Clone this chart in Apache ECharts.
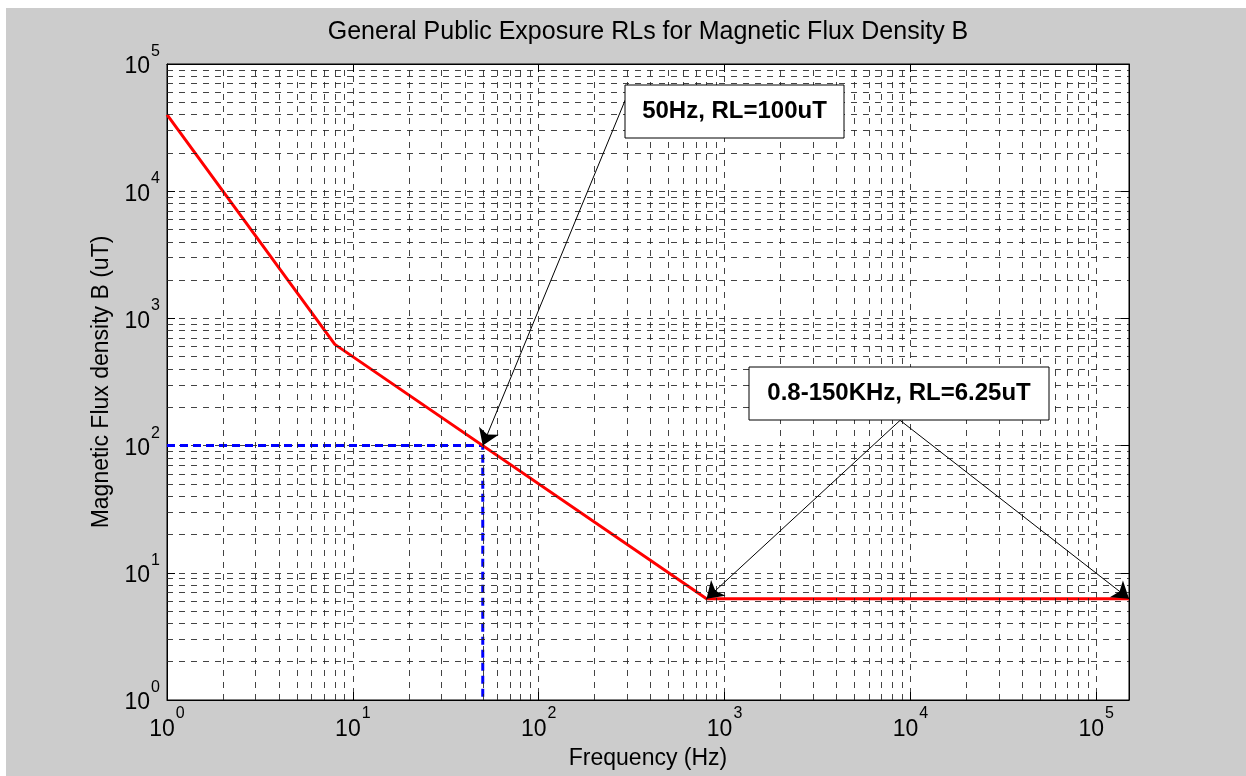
<!DOCTYPE html>
<html><head><meta charset="utf-8">
<script src="https://cdn.jsdelivr.net/npm/echarts@6/dist/echarts.min.js"></script>
<style>
html,body{margin:0;padding:0;background:#ffffff;width:1246px;height:776px;overflow:hidden;}
#c{position:absolute;left:6px;top:8px;width:1240px;height:768px;background:#cccccc;}
</style>
</head><body><div id="c"></div>
<script>
// ---- data ----
const freqHz = [1, 8, 800, 150000];          // red RL curve, frequency (Hz)
const fluxUT = [40000, 625, 6.25, 6.25];      // red RL curve, B (uT)
const markFreq = [1, 50, 50];                 // blue dashed guide, x
const markFlux = [100, 100, 1];               // blue dashed guide, y
const minorMult = [2, 3, 4, 5, 6, 7, 8, 9];   // log minor grid multipliers
const xDecades = [1, 10, 100, 1000, 10000, 100000];
const yDecades = [1, 10, 100, 1000, 10000];
const xMax = 150000;
const titleText = 'General Public Exposure RLs for Magnetic Flux Density B';
const xName = 'Frequency (Hz)';
const yName = 'Magnetic Flux density B (uT)';
const note1 = '50Hz, RL=100uT';
const note2 = '0.8-150KHz, RL=6.25uT';
const arrow1 = [[292, 52000], [50, 100]];
const arrow2a = [[8800, 158], [800, 6.25]];
const arrow2b = [[8800, 158], [150000, 6.25]];

const xMinor = [];
xDecades.forEach(d => minorMult.forEach(m => { if (d * m < xMax) xMinor.push(d * m); }));
const yMinor = [];
yDecades.forEach(d => minorMult.forEach(m => yMinor.push(d * m)));

const FONT = '"Liberation Sans", Arial, sans-serif';
const gridStyle = { color: '#222', width: 1, type: [6, 6], opacity: 0.85 };

function powLabel(v) {
  const e = Math.log10(v);
  const r = Math.round(e);
  if (Math.abs(e - r) > 1e-6) return '';
  return '{b|10}{s|' + r + '}';
}
const rich = {
  b: { fontSize: 23, fontFamily: FONT, color: '#000', height: 23, padding: [12, 0, 0, 0], verticalAlign: 'bottom' },
  s: { fontSize: 16, fontFamily: FONT, color: '#000', height: 16, padding: [0, 0, 19, 1], verticalAlign: 'top' }
};

const chart = echarts.init(document.getElementById('c'), null, { renderer: 'canvas' });
const G = { left: 161, top: 56, width: 962, height: 636 };

const option = {
  animation: false,
  backgroundColor: '#cccccc',
  grid: { left: G.left, top: G.top, width: G.width, height: G.height, show: true, backgroundColor: '#ffffff', borderColor: '#000', borderWidth: 1 },
  xAxis: [{
    type: 'log', logBase: 10, min: 1, max: xMax,
    name: xName, nameLocation: 'middle', nameGap: 47,
    nameTextStyle: { fontSize: 23, fontFamily: FONT, color: '#000' },
    axisLine: { show: true, lineStyle: { color: '#000', width: 1 } },
    axisTick: { show: true, inside: true, length: 8, lineStyle: { color: '#000' } },
    axisLabel: { formatter: powLabel, rich: rich, margin: 6, showMaxLabel: false },
    splitLine: { show: true, lineStyle: gridStyle },
    minorTick: { show: false }
  }, {
    type: 'log', logBase: 10, min: 1, max: xMax, position: 'top',
    axisLine: { show: true, lineStyle: { color: '#000' } },
    axisTick: { show: true, inside: true, length: 8, lineStyle: { color: '#000' } },
    axisLabel: { show: false }, splitLine: { show: false }
  }],
  yAxis: [{
    type: 'log', logBase: 10, min: 1, max: 100000,
    name: yName, nameLocation: 'middle', nameGap: 52,
    nameTextStyle: { fontSize: 23, fontFamily: FONT, color: '#000' },
    axisLine: { show: true, lineStyle: { color: '#000', width: 1 } },
    axisTick: { show: true, inside: true, length: 8, lineStyle: { color: '#000' } },
    axisLabel: { formatter: powLabel, rich: rich, margin: 7, padding: [0, 0, 6, 0] },
    splitLine: { show: true, lineStyle: gridStyle }
  }, {
    type: 'log', logBase: 10, min: 1, max: 100000, position: 'right',
    axisLine: { show: true, lineStyle: { color: '#000' } },
    axisTick: { show: true, inside: true, length: 8, lineStyle: { color: '#000' } },
    axisLabel: { show: false }, splitLine: { show: false }
  }],
  series: [
    {
      name: 'minorGrid', type: 'line', data: [], silent: true,
      markLine: {
        silent: true, symbol: ['none', 'none'], label: { show: false }, animation: false,
        lineStyle: gridStyle,
        data: xMinor.map(v => ({ xAxis: v })).concat(yMinor.map(v => ({ yAxis: v })))
      }
    },
    {
      name: 'guide', type: 'line', z: 3, symbol: 'none',
      data: markFreq.map((f, i) => [f, markFlux[i]]),
      lineStyle: { color: '#0000ff', width: 3, type: [8, 5] }
    },
    {
      name: 'RL', type: 'line', z: 4, symbol: 'none',
      data: freqHz.map((f, i) => [f, fluxUT[i]]),
      lineStyle: { color: '#ff0000', width: 3 }
    },
    {
      name: 'arrows', type: 'line', data: [], z: 5,
      markLine: {
        silent: true, symbol: ['none', 'arrow'], symbolSize: 16, label: { show: false }, animation: false,
        lineStyle: { color: '#000', width: 1, type: 'solid' },
        data: [arrow1, arrow2a, arrow2b].map(a => [{ coord: a[0] }, { coord: a[1] }])
      }
    }
  ],
  graphic: [
    { type: 'text', x: 642, y: 12, z: 10,
      style: { text: titleText, font: '25px ' + FONT, fill: '#000', align: 'center', verticalAlign: 'top' } },
    { type: 'rect', shape: { x: 619, y: 77, width: 219, height: 53 }, z: 20,
      style: { fill: '#fff', stroke: '#000', lineWidth: 1 } },
    { type: 'text', x: 619 + 109.5, y: 77 + 26.5, z: 21,
      style: { text: note1, font: 'bold 24px ' + FONT, fill: '#000', align: 'center', verticalAlign: 'middle' } },
    { type: 'rect', shape: { x: 743, y: 359, width: 300, height: 53 }, z: 20,
      style: { fill: '#fff', stroke: '#000', lineWidth: 1 } },
    { type: 'text', x: 743 + 150, y: 359 + 26.5, z: 21,
      style: { text: note2, font: 'bold 24px ' + FONT, fill: '#000', align: 'center', verticalAlign: 'middle' } }
  ]
};
chart.setOption(option);
</script></body></html>
